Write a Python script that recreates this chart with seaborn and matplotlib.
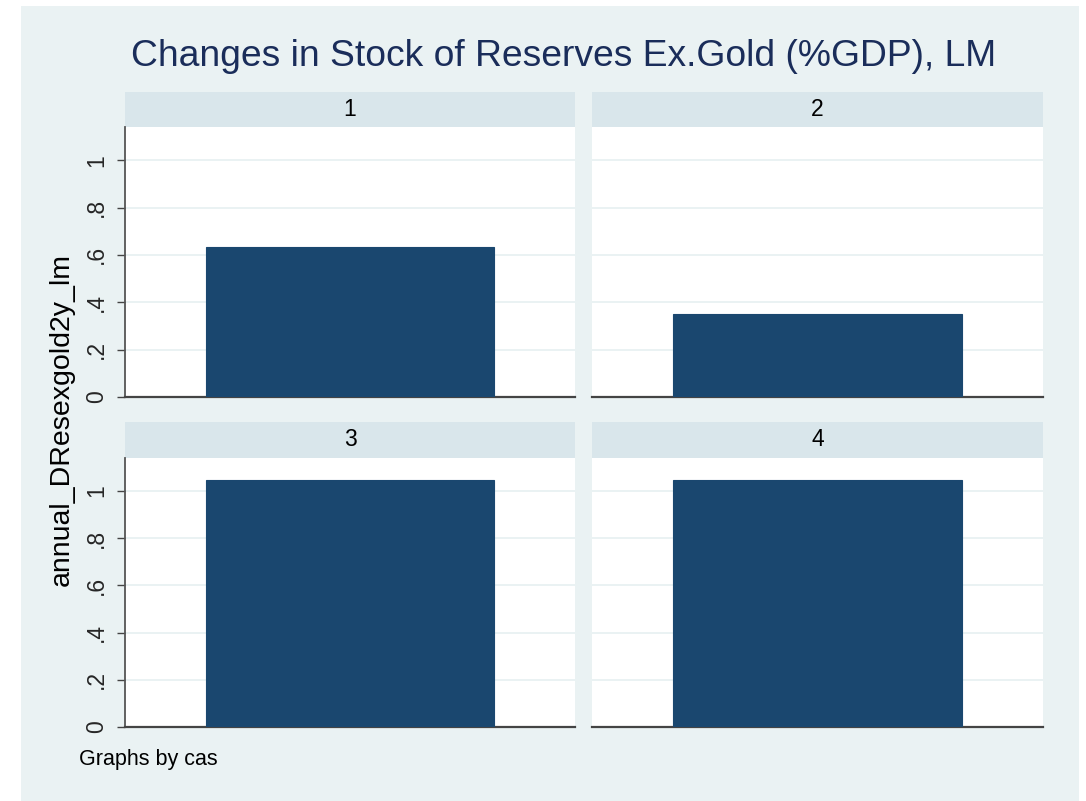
import matplotlib
matplotlib.use("Agg")
import matplotlib.pyplot as plt
from matplotlib.patches import Rectangle
import seaborn as sns
import pandas as pd

# Data: one bar per group of "cas"
cas = ["1", "2", "3", "4"]
annual_DResexgold2y_lm = [0.633, 0.350, 1.047, 1.047]
ytick_values = [0, 0.2, 0.4, 0.6, 0.8, 1.0]
ytick_labels = ["0", ".2", ".4", ".6", ".8", "1"]

df = pd.DataFrame({"cas": cas, "annual_DResexgold2y_lm": annual_DResexgold2y_lm, "x": [""] * 4})

sns.set_theme(style="white")
plt.rcParams["font.family"] = ["Liberation Sans", "DejaVu Sans"]

W, H = 1086, 801
fig = plt.figure(figsize=(W / 100, H / 100), dpi=100)
fig.patch.set_facecolor("white")

BG = "#EAF2F3"
STRIP = "#D9E6EB"
BAR = "#1A476F"
TITLE = "#1A2D5A"

# outer graph region
fig.patches.append(Rectangle((21 / W, 0), (1079 - 21) / W, 1 - 6 / H,
                             transform=fig.transFigure, facecolor=BG,
                             edgecolor="none", zorder=-10))


def frac_box(x0, y0, x1, y1):
    return [x0 / W, 1 - y1 / H, (x1 - x0) / W, (y1 - y0) / H]


cols = [(125, 575), (592, 1043)]
rows = [((92, 127), (127, 397)), ((422, 458), (458, 727))]

for i, name in enumerate(cas):
    r, c = divmod(i, 2)
    (sx0, sx1) = cols[c]
    (st0, st1), (py0, py1) = rows[r]

    # strip with group label
    sax = fig.add_axes(frac_box(sx0, st0, sx1, st1))
    sax.set_facecolor(STRIP)
    sax.set_xticks([])
    sax.set_yticks([])
    for s in sax.spines.values():
        s.set_visible(False)
    sax.text(0.5, 0.5, name, ha="center", va="center", fontsize=16.5,
             color="black", transform=sax.transAxes)

    ax = fig.add_axes(frac_box(sx0, py0, sx1, py1))
    sub = df[df["cas"] == name]
    sns.barplot(data=sub, x="x", y="annual_DResexgold2y_lm", ax=ax,
                color=BAR, saturation=1, width=0.8, edgecolor=BAR,
                linewidth=0.8, zorder=3)
    ax.set_facecolor("white")
    ax.set_xlim(-0.623, 0.623)
    ax.set_ylim(0, 1.14)
    ax.set_xlabel("")
    ax.set_ylabel("")
    ax.set_xticks([])
    ax.set_yticks(ytick_values)
    ax.yaxis.grid(True, color="#EAF2F3", linewidth=1.4, zorder=0)
    ax.set_axisbelow(True)
    for side in ["top", "right"]:
        ax.spines[side].set_visible(False)
    ax.spines["bottom"].set_color("#444444")
    ax.spines["bottom"].set_linewidth(1.6)
    if c == 0:
        ax.set_yticklabels(ytick_labels, rotation=90, va="center", fontsize=16.5)
        ax.tick_params(axis="y", direction="out", length=6, width=1.0,
                       color="#444444", pad=6, left=True)
        ax.spines["left"].set_color("#555555")
        ax.spines["left"].set_linewidth(1.3)
    else:
        ax.set_yticklabels([])
        ax.tick_params(axis="y", length=0, left=False)
        ax.spines["left"].set_visible(False)

fig.text(564 / W, 1 - 57 / H, "Changes in Stock of Reserves Ex.Gold (%GDP), LM",
         ha="center", va="center", fontsize=26.8, color=TITLE)
fig.text(62 / W, 1 - 419 / H, "annual_DResexgold2y_lm", rotation=90,
         ha="center", va="center", fontsize=20.5, color="black")
fig.text(79 / W, 1 - 759 / H, "Graphs by cas", ha="left", va="center",
         fontsize=15.5, color="black")

fig.savefig("out.png", dpi=100, facecolor=fig.get_facecolor())
